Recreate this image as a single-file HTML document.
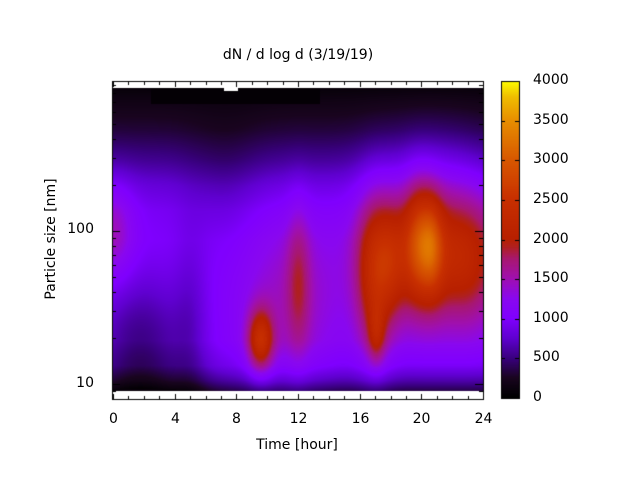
<!DOCTYPE html>
<html><head><meta charset="utf-8"><style>
html,body{margin:0;padding:0;background:#fff;width:640px;height:480px;overflow:hidden}
#w{position:relative;width:640px;height:480px;font-family:"DejaVu Sans","Liberation Sans",sans-serif;font-size:14px;color:#000}
canvas{position:absolute;left:0;top:0}
.t{position:absolute;white-space:nowrap}
</style></head><body><div id="w">
<canvas id="c" width="640" height="480"></canvas>
<div class="t" style="left:0;width:596px;top:47px;text-align:center">dN / d log d (3/19/19)</div>
<div class="t" style="left:197px;width:200px;top:437px;text-align:center">Time [hour]</div>
<div class="t" style="left:-49px;width:200px;top:231px;text-align:center;transform:rotate(-90deg)">Particle size [nm]</div>
<div class="t" style="left:60px;width:34px;top:221px;text-align:right">100</div>
<div class="t" style="left:60px;width:34px;top:375px;text-align:right">10</div>
<div id="xl"></div><div id="cl"></div>
</div>
<script>
var c=document.getElementById('c').getContext('2d');
var S=[[0,[0,0,0]],[.0625,[26,5,32]],[.125,[58,0,128]],[.1875,[96,0,208]],[.25,[128,0,255]],[.3125,[138,8,240]],[.375,[160,16,176]],[.4375,[168,24,112]],[.475,[176,32,32]],[.5,[184,32,0]],[.625,[200,48,0]],[.75,[216,88,0]],[.875,[232,144,0]],[.95,[240,192,0]],[1,[255,255,0]]];
function pal(x){x=Math.max(0,Math.min(1,x));for(var i=1;i<S.length;i++){if(x<=S[i][0]){var t=(x-S[i-1][0])/(S[i][0]-S[i-1][0]),a=S[i-1][1],b=S[i][1];return [a[0]+t*(b[0]-a[0])|0,a[1]+t*(b[1]-a[1])|0,a[2]+t*(b[2]-a[2])|0];}}return S[S.length-1][1];}
function G(x,y,cx,cy,sx,sy,a){var dx=(x-cx)/sx,dy=(y-cy)/sy;return a*Math.exp(-.5*(dx*dx+dy*dy));}
function lerpP(y,pts){if(y<=pts[0][0])return pts[0][1];for(var i=1;i<pts.length;i++){if(y<=pts[i][0]){var t=(y-pts[i-1][0])/(pts[i][0]-pts[i-1][0]);return pts[i-1][1]+t*(pts[i][1]-pts[i-1][1]);}}return pts[pts.length-1][1];}
var basePts=[[88,0.02],[100,0.04],[130,0.08],[160,0.14],[185,0.2],[210,0.24],[240,0.26],[340,0.26],[365,0.22],[380,0.15],[391,0.08]];
function val(x,y){
 var v=lerpP(y,basePts);
 v-=G(x,y,140,345,35,50,0.13)+G(x,y,225,190,25,50,0.035)+G(x,y,190,320,12,70,0.05);
 v+=G(x,y,430,170,40,40,0.05);
 v+=G(x,y,112,230,15,35,0.12)+G(x,y,290,300,35,60,0.1)+G(x,y,260,340,9,22,0.3)+G(x,y,298,280,8,50,0.12)
  +G(x,y,374,275,13,55,0.24)+G(x,y,376,335,6,20,0.14)+G(x,y,438,255,45,48,0.3)+G(x,y,418,240,10,40,0.2)
  +G(x,y,432,245,8,35,0.17)+G(x,y,472,270,15,45,0.05)+G(x,y,392,262,10,40,0.1);
 if(y<104&&x>150&&x<320)v=Math.min(v,0.01);
 return v;
}
var img=c.createImageData(370,303);
for(var j=0;j<303;j++){for(var i=0;i<370;i++){var x=113+i,y=88+j;var v=val(x,y);
 if(j>300&&i<63)v=0.02;
 var p=pal(v),k=(j*370+i)*4;img.data[k]=p[0];img.data[k+1]=p[1];img.data[k+2]=p[2];img.data[k+3]=255;}}
c.putImageData(img,113,88);
c.fillStyle='#fff';c.fillRect(224,88,14,3);
for(var yy=0;yy<317;yy++){var p=pal(yy/317);c.fillStyle='rgb('+p+')';c.fillRect(501,398-yy-1,18,1);}
c.strokeStyle='#000';c.lineWidth=1;
c.strokeRect(501.5,81.5,18,317);
c.strokeRect(112.5,81.5,371,318);
c.beginPath();
var cl='';
for(var k=0;k<=8;k++){var y=Math.round(398-k*39.6)+.5;c.moveTo(501,y);c.lineTo(505,y);c.moveTo(519,y);c.lineTo(515,y);
 cl+='<div class="t" style="left:533px;top:'+(y-10)+'px">'+(k*500)+'</div>';}
var xl='';
for(var h=0;h<=24;h++){var x=Math.round(113+h*370/24)+.5;var L=(h%4==0)?6:4;c.moveTo(x,400);c.lineTo(x,400-L);c.moveTo(x,81);c.lineTo(x,81+L);
 if(h%4==0)xl+='<div class="t" style="left:'+(x-20)+'px;width:40px;text-align:center;top:411px">'+h+'</div>';}
function yl(d){return 384-153*Math.log10(d/10);}
[8,9,10,20,30,40,50,60,70,80,90,100,200,300,400,500,600,700,800,900].forEach(function(d){var y=Math.round(yl(d))+.5;if(y<81||y>400)return;var L=(d==10||d==100)?8:4;c.moveTo(112,y);c.lineTo(112+L,y);c.moveTo(483,y);c.lineTo(483-L,y);});
c.stroke();
document.getElementById('xl').innerHTML=xl;document.getElementById('cl').innerHTML=cl;
</script>
</body></html>
